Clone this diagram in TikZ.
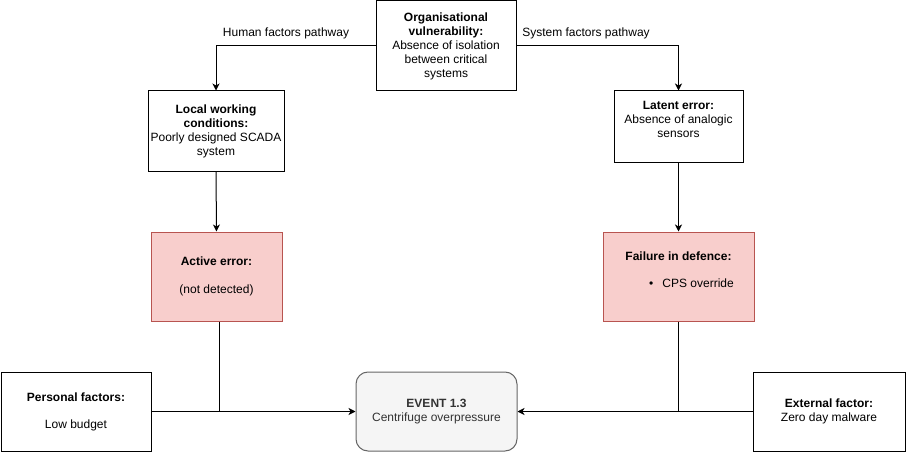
\documentclass[tikz,border=0pt]{standalone}
\usepackage{fontspec}
\setmainfont{Liberation Sans}
\usepackage{tikz}
\usetikzlibrary{shapes,arrows.meta,calc,positioning}
\usepackage{xcolor}
\definecolor{errfill}{HTML}{F8CECC}
\definecolor{errdraw}{HTML}{B85450}
\definecolor{evfill}{HTML}{F5F5F5}
\definecolor{evdraw}{HTML}{666666}
\definecolor{evtext}{HTML}{333333}

\begin{document}
\begin{tikzpicture}[x=1pt,y=-1pt,
	  every node/.style={align=center,text=black,inner sep=0pt,font=\fontsize{12}{14}\selectfont},
	  factor/.style={draw=black,line width=1pt,fill=white},
	  failure/.style={draw=errdraw,line width=1pt,fill=errfill},
	  event/.style={draw=evdraw,line width=1pt,fill=evfill,rounded corners=12pt,text=evtext},
	  to/.style={->,>={Stealth[length=7pt,width=7pt,inset=2pt]},line width=1pt,draw=black},
	  merge/.style={line width=1pt,draw=black}]

	  \useasboundingbox (0,0) rectangle (906,452);

	  % Position the nodes at the same places as the reference
	  \node[factor,minimum width=140,minimum height=90] (orgvuln) at (446,46) {\textbf{Organisational}\\\textbf{vulnerability:}\\Absence of isolation\\between critical\\systems};
	  \node[factor,minimum width=136,minimum height=80] (localcond) at (216,131) {\textbf{Local working}\\\textbf{conditions:}\\Poorly designed SCADA\\system};
	  \node[factor,minimum width=129,minimum height=71] (latenterr) at (678.5,126.5) {\textbf{Latent error:}\\Absence of analogic\\sensors\\\mbox{}};
	  \node[failure,minimum width=131,minimum height=89] (activeerr) at (216.5,276.5) {\textbf{Active error:}\\[14pt](not detected)};
	  \node[failure,minimum width=151,minimum height=89] (defence) at (678.5,276.5) {\textbf{Failure in defence:}\\[13pt]\hspace*{26pt}\textbullet\hspace{9pt}CPS override\\\mbox{}};
	  \node[factor,minimum width=150,minimum height=79] (personal) at (76,411.5) {\textbf{Personal factors:}\\[13pt]Low budget};
	  \node[event,minimum width=161,minimum height=79] (event) at (436.5,411.5) {\textbf{EVENT 1.3}\\Centrifuge overpressure};
	  \node[factor,minimum width=152,minimum height=79] (external) at (829,411.5) {\textbf{External factor:}\\Zero day malware};

	  \node (humanlbl) at (286,33) {Human factors pathway};
	  \node (systemlbl) at (586,33) {System factors pathway};

	  \draw[to] (orgvuln.west) -| (localcond.north);
	  \draw[to] (orgvuln.east) -| (latenterr.north);
	  \draw[to] (localcond.south) -- (activeerr.north);
	  \draw[to] (latenterr.south) -- (defence.north);
	  \draw[to] (personal.east) -- (event.west);
	  \draw[to] (external.west) -- (event.east);
	  \draw[merge] ($(activeerr.south)+(2.5,0)$) -- ($(activeerr.south |- event.west)+(2.5,0)$);
	  \draw[merge] (defence.south) -- (defence.south |- event.east);
\end{tikzpicture}
\end{document}
